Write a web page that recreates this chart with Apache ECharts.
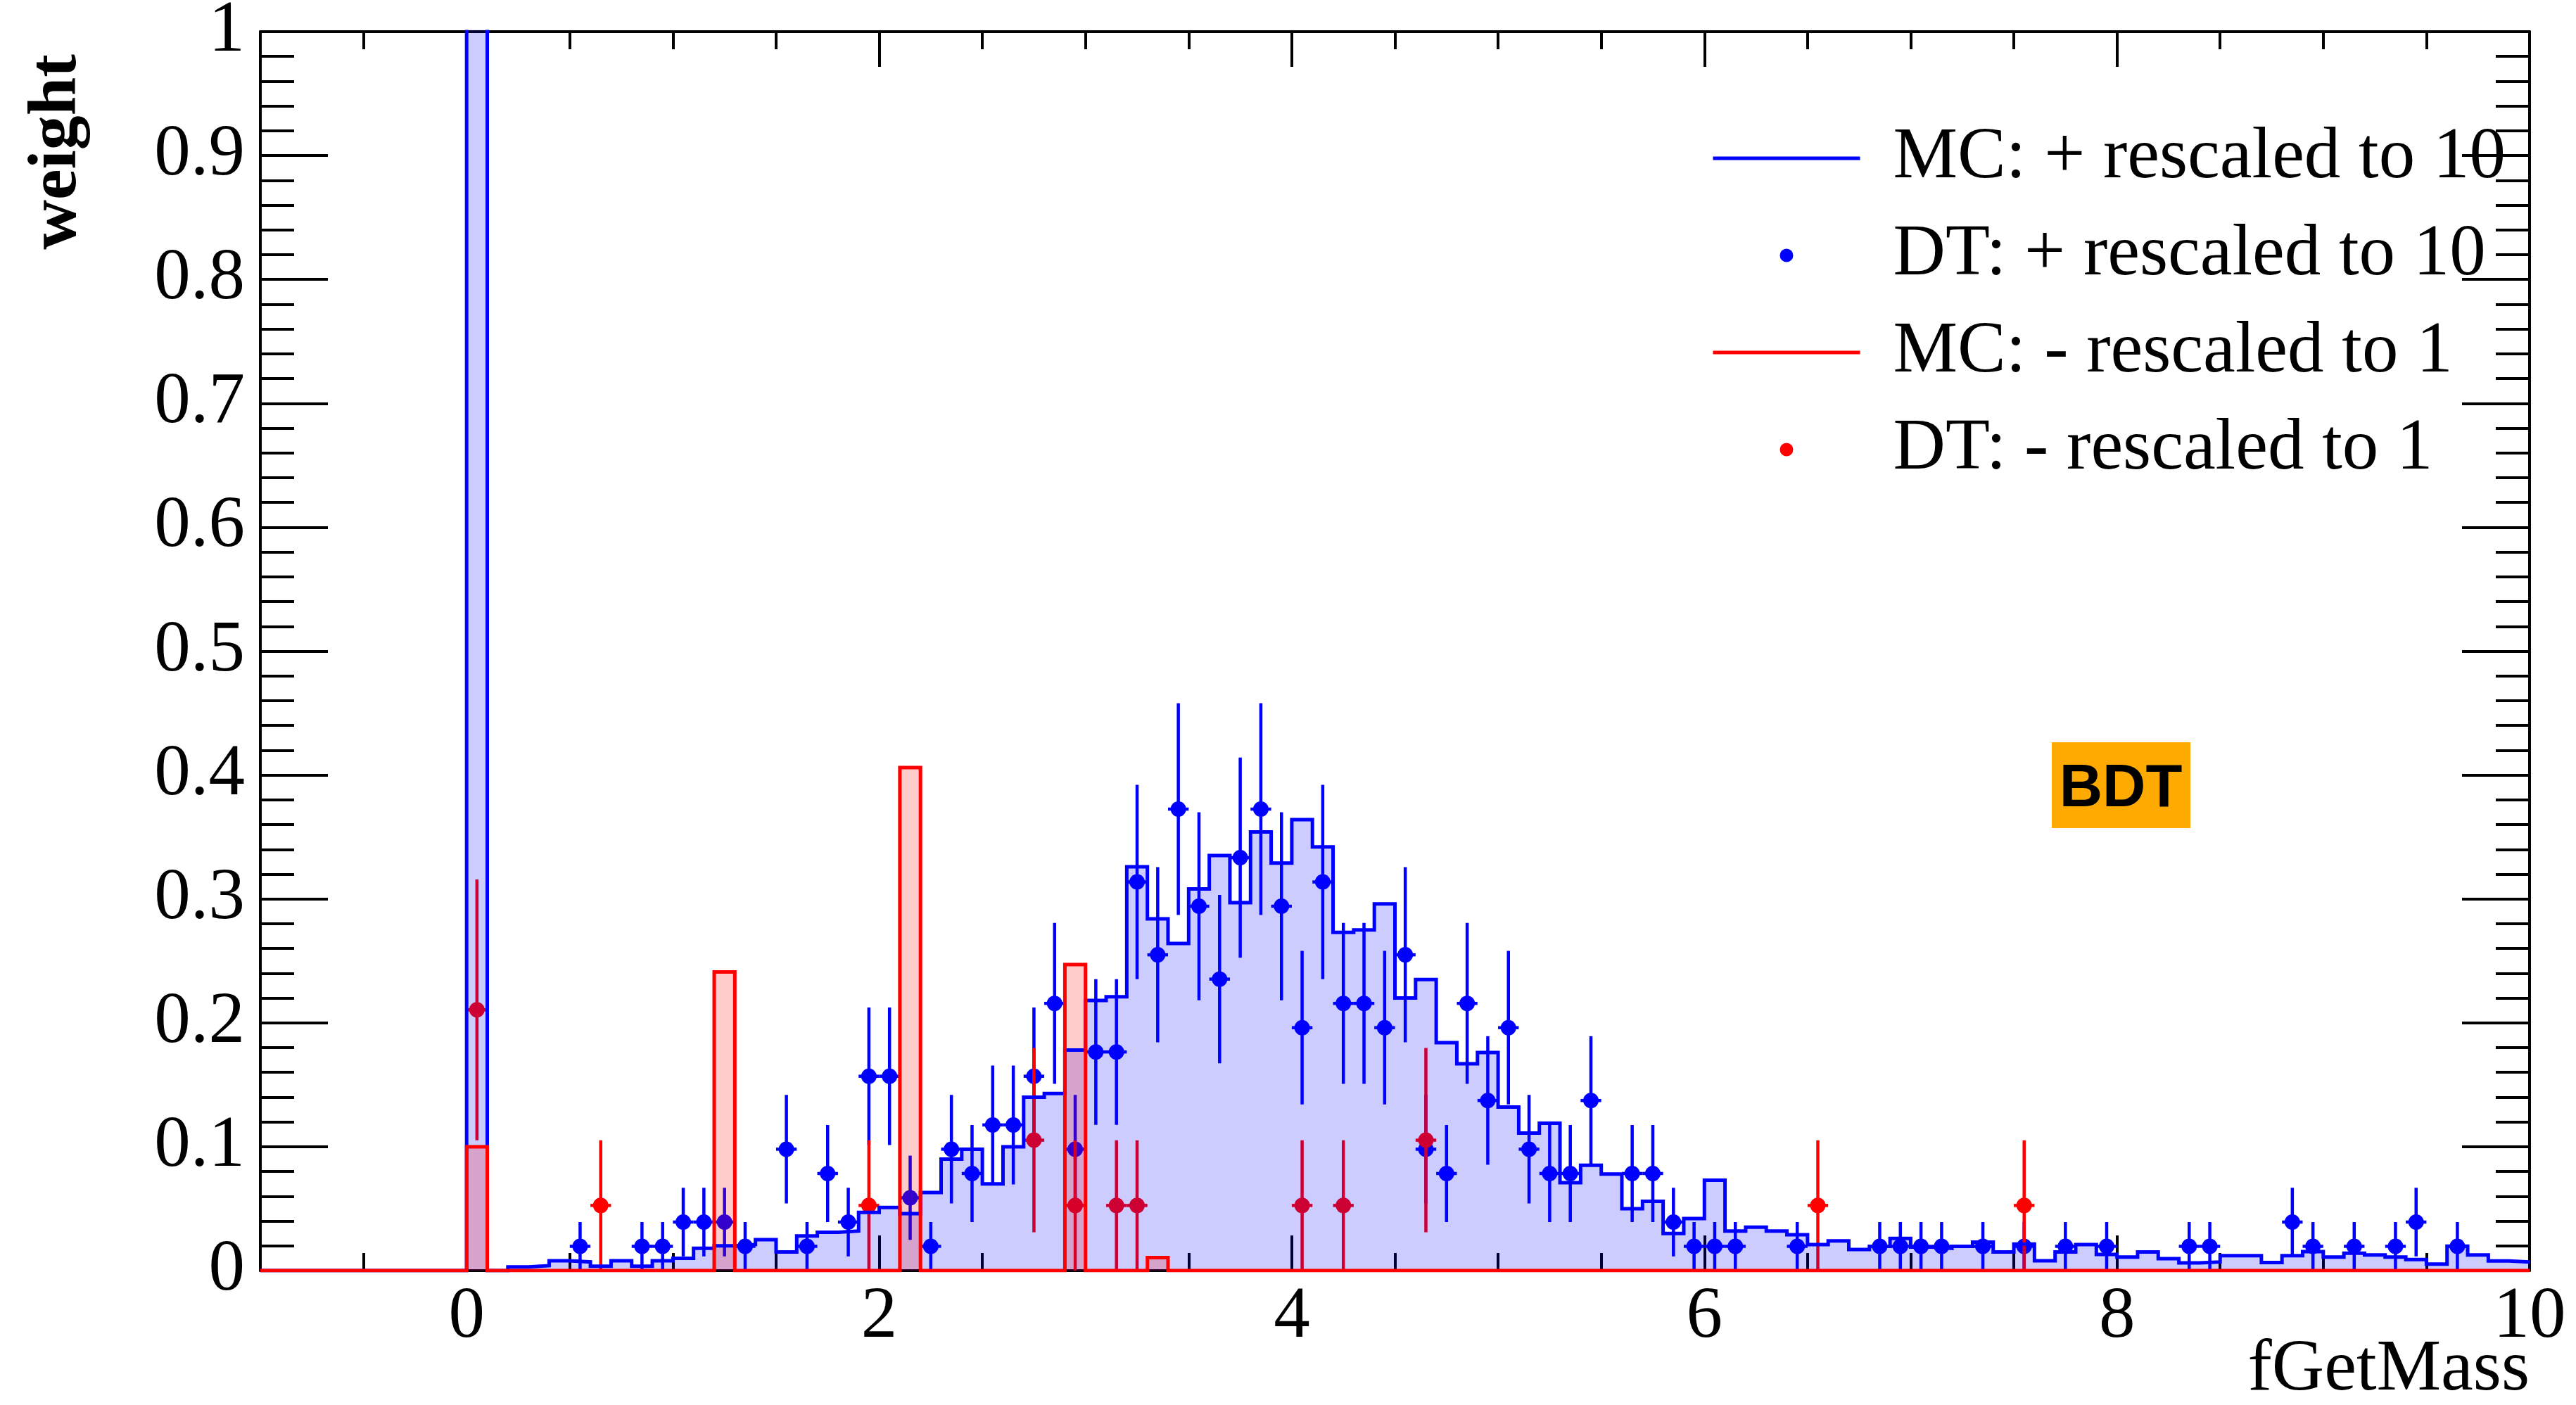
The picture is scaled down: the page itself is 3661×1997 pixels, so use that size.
<!DOCTYPE html>
<html>
<head>
<meta charset="utf-8">
<title>fGetMass</title>
<script src="https://cdn.jsdelivr.net/npm/echarts@6/dist/echarts.min.js"></script>
<style>
  html, body { margin: 0; padding: 0; background: #ffffff; }
  #chart { width: 3661px; height: 1997px; }
</style>
</head>
<body>
<div id="chart"></div>
<script>
// Histogram binning: 110 bins of width 0.1 starting at -1
const binStart = -1.0;
const binWidth = 0.1;

// MC "+" sample, rescaled to 10 (bin contents from -1.0 upwards)
const mcPlus = [
  0, 0, 0, 0, 0, 0, 0, 0, 0, 0,
  1.6, 0, 0.003, 0.004, 0.008, 0.007, 0.0035, 0.008, 0.0035, 0.008,
  0.010, 0.018, 0.020, 0.021, 0.025, 0.015, 0.028, 0.031, 0.032, 0.047,
  0.051, 0.046, 0.063, 0.090, 0.098, 0.070, 0.100, 0.140, 0.143, 0.178,
  0.218, 0.221, 0.326, 0.284, 0.264, 0.308, 0.335, 0.297, 0.354, 0.329,
  0.364, 0.342, 0.273, 0.275, 0.296, 0.220, 0.235, 0.184, 0.167, 0.176,
  0.132, 0.111, 0.119, 0.071, 0.085, 0.078, 0.050, 0.056, 0.030, 0.042,
  0.073, 0.032, 0.035, 0.032, 0.029, 0.021, 0.024, 0.017, 0.0196, 0.026,
  0.019, 0.018, 0.0196, 0.023, 0.015, 0.0215, 0.008, 0.015, 0.021, 0.013,
  0.011, 0.015, 0.0097, 0.0063, 0.007, 0.012, 0.012, 0.0065, 0.012, 0.0154,
  0.011, 0.014, 0.0126, 0.011, 0.009, 0.0053, 0.0198, 0.0126, 0.0078, 0.0069
];

// MC "-" sample, rescaled to 1
const mcMinus = [
  0, 0, 0, 0, 0, 0, 0, 0, 0, 0,
  0.100, 0, 0, 0, 0, 0, 0, 0, 0, 0,
  0, 0, 0.241, 0, 0, 0, 0, 0, 0, 0,
  0, 0.406, 0, 0, 0, 0, 0, 0, 0, 0.247,
  0, 0, 0, 0.0105, 0, 0, 0, 0, 0, 0,
  0, 0, 0, 0, 0, 0, 0, 0, 0, 0,
  0, 0, 0, 0, 0, 0, 0, 0, 0, 0,
  0, 0, 0, 0, 0, 0, 0, 0, 0, 0,
  0, 0, 0, 0, 0, 0, 0, 0, 0, 0,
  0, 0, 0, 0, 0, 0, 0, 0, 0, 0,
  0, 0, 0, 0, 0, 0, 0, 0, 0, 0
];

// Data "+" sample: bin centre, content and vertical error
const dtPlusX = [
  0.55, 0.85, 0.95, 1.05, 1.15, 1.25, 1.35, 1.55, 1.65, 1.75,
  1.85, 1.95, 2.05, 2.15, 2.25, 2.35, 2.45, 2.55, 2.65, 2.75,
  2.85, 2.95, 3.05, 3.15, 3.25, 3.35, 3.45, 3.55, 3.65, 3.75,
  3.85, 3.95, 4.05, 4.15, 4.25, 4.35, 4.45, 4.55, 4.65, 4.75,
  4.85, 4.95, 5.05, 5.15, 5.25, 5.35, 5.45, 5.65, 5.75, 5.85,
  5.95, 6.05, 6.15, 6.45, 6.85, 6.95, 7.05, 7.15, 7.35, 7.55,
  7.75, 7.95, 8.35, 8.45, 8.85, 8.95, 9.15, 9.35, 9.45, 9.65
];
const dtPlusY = [
  0.0196, 0.0196, 0.0196, 0.0392, 0.0392, 0.0392, 0.0196, 0.098, 0.0196, 0.0784,
  0.0392, 0.1569, 0.1569, 0.0588, 0.0196, 0.098, 0.0784, 0.1176, 0.1176, 0.1569,
  0.2157, 0.098, 0.1765, 0.1765, 0.3137, 0.2549, 0.3725, 0.2941, 0.2353, 0.3333,
  0.3725, 0.2941, 0.1961, 0.3137, 0.2157, 0.2157, 0.1961, 0.2549, 0.098, 0.0784,
  0.2157, 0.1373, 0.1961, 0.098, 0.0784, 0.0784, 0.1373, 0.0784, 0.0784, 0.0392,
  0.0196, 0.0196, 0.0196, 0.0196, 0.0196, 0.0196, 0.0196, 0.0196, 0.0196, 0.0196,
  0.0196, 0.0196, 0.0196, 0.0196, 0.0392, 0.0196, 0.0196, 0.0196, 0.0392, 0.0196
];
const dtPlusErr = [
  0.0196, 0.0196, 0.0196, 0.0277, 0.0277, 0.0277, 0.0196, 0.0438, 0.0196, 0.0392,
  0.0277, 0.0555, 0.0555, 0.034, 0.0196, 0.0438, 0.0392, 0.048, 0.048, 0.0555,
  0.065, 0.0438, 0.0588, 0.0588, 0.0784, 0.0707, 0.0855, 0.0759, 0.0679, 0.0808,
  0.0855, 0.0759, 0.062, 0.0784, 0.065, 0.065, 0.062, 0.0707, 0.0438, 0.0392,
  0.065, 0.0519, 0.062, 0.0438, 0.0392, 0.0392, 0.0519, 0.0392, 0.0392, 0.0277,
  0.0196, 0.0196, 0.0196, 0.0196, 0.0196, 0.0196, 0.0196, 0.0196, 0.0196, 0.0196,
  0.0196, 0.0196, 0.0196, 0.0196, 0.0277, 0.0196, 0.0196, 0.0196, 0.0277, 0.0196
];

// Data "-" sample
const dtMinusX = [0.05, 0.65, 1.95, 2.75, 2.95, 3.15, 3.25, 4.05, 4.25, 4.65, 6.55, 7.55];
const dtMinusY = [0.2105, 0.0526, 0.0526, 0.1053, 0.0526, 0.0526, 0.0526, 0.0526, 0.0526, 0.1053, 0.0526, 0.0526];
const dtMinusErr = [0.1053, 0.0526, 0.0526, 0.0744, 0.0526, 0.0526, 0.0526, 0.0526, 0.0526, 0.0744, 0.0526, 0.0526];

const seriesNames = [
  'MC: + rescaled to 10',
  'DT: + rescaled to 10',
  'MC: - rescaled to 1',
  'DT: - rescaled to 1'
];

const BLUE = '#0000ff';
const RED = '#ff0000';
const SERIF = 'Liberation Serif';

// Bin low edges paired with contents, closed at the upper edge of the last bin
function stepPoints(values) {
  const pts = values.map((v, i) => [Number((binStart + i * binWidth).toFixed(2)), v]);
  pts.push([Number((binStart + values.length * binWidth).toFixed(2)), values[values.length - 1]]);
  return pts;
}

function points(xs, ys, errs) {
  return xs.map((x, i) => [x, ys[i], errs[i]]);
}

// Marker with vertical error bar and horizontal half-bin bar
function errorBars(color) {
  return function (params, api) {
    const x = api.value(0), y = api.value(1), e = api.value(2);
    const c = api.coord([x, y]);
    const hi = api.coord([x, y + e]);
    const lo = api.coord([x, Math.max(0, y - e)]);
    const l = api.coord([x - binWidth / 2, y]);
    const r = api.coord([x + binWidth / 2, y]);
    const s = { stroke: color, lineWidth: 4.5 };
    return {
      type: 'group',
      children: [
        { type: 'line', shape: { x1: c[0], y1: hi[1], x2: c[0], y2: lo[1] }, style: s },
        { type: 'line', shape: { x1: l[0], y1: c[1], x2: r[0], y2: c[1] }, style: s },
        { type: 'circle', shape: { cx: c[0], cy: c[1], r: 11 }, style: { fill: color } }
      ]
    };
  };
}

function xAxisDef(position, withLabels) {
  return {
    type: 'value', position: position, gridIndex: 0,
    min: -1, max: 10, minInterval: 2, maxInterval: 2, splitNumber: 5,
    axisLine: { show: true, onZero: false, lineStyle: { color: '#000', width: 4 } },
    axisTick: { show: true, inside: true, length: 50, lineStyle: { color: '#000', width: 4 } },
    minorTick: { show: true, splitNumber: 4, length: 25, lineStyle: { color: '#000', width: 4 } },
    splitLine: { show: false }, minorSplitLine: { show: false },
    axisLabel: {
      show: withLabels, interval: 0, showMinLabel: false, showMaxLabel: true,
      margin: 15, color: '#000', fontFamily: SERIF, fontSize: 103
    }
  };
}

function yAxisDef(position, withLabels) {
  return {
    type: 'value', position: position, gridIndex: 0,
    min: 0, max: 1, interval: 0.1,
    axisLine: { show: true, onZero: false, lineStyle: { color: '#000', width: 4 } },
    axisTick: { show: true, inside: true, length: 96, lineStyle: { color: '#000', width: 4 } },
    minorTick: { show: true, splitNumber: 5, length: 48, lineStyle: { color: '#000', width: 4 } },
    splitLine: { show: false }, minorSplitLine: { show: false },
    axisLabel: {
      show: withLabels, interval: 0, showMinLabel: true, showMaxLabel: true,
      margin: 22, color: '#000', fontFamily: SERIF, fontSize: 103
    }
  };
}

const chart = echarts.init(document.getElementById('chart'), null, { renderer: 'canvas' });

chart.setOption({
  animation: false,
  backgroundColor: '#ffffff',
  textStyle: { fontFamily: SERIF },
  grid: { left: 370, right: 66, top: 45, bottom: 191, containLabel: false, outerBoundsMode: 'none' },
  xAxis: [xAxisDef('bottom', true), xAxisDef('top', false)],
  yAxis: [yAxisDef('left', true), yAxisDef('right', false)],
  legend: {
    orient: 'vertical', left: 2432, top: 168, padding: 0, itemGap: 24,
    itemWidth: 209, itemHeight: 19, selectedMode: false,
    lineStyle: { width: 5 },
    textStyle: { fontFamily: SERIF, fontSize: 103, lineHeight: 103, color: '#000', padding: [0, 0, 11, 42] },
    data: [
      { name: seriesNames[0], itemStyle: { opacity: 0 } },
      { name: seriesNames[1], icon: 'circle', itemStyle: { borderWidth: 0 } },
      { name: seriesNames[2], itemStyle: { opacity: 0 } },
      { name: seriesNames[3], icon: 'circle', itemStyle: { borderWidth: 0 } }
    ]
  },
  graphic: [
    {
      type: 'text', x: 3595, y: 1948, silent: true,
      style: { text: 'fGetMass', fontFamily: SERIF, fontSize: 103, fill: '#000', align: 'right', verticalAlign: 'middle' }
    },
    {
      type: 'text', x: 82, y: 216, rotation: Math.PI / 2, silent: true,
      style: { text: 'weight', fontFamily: SERIF, fontWeight: 'bold', fontSize: 98, fill: '#000', align: 'center', verticalAlign: 'middle' }
    },
    {
      type: 'group', silent: true,
      children: [
        { type: 'rect', shape: { x: 2916, y: 1055, width: 197, height: 122 }, style: { fill: '#ffaa00' } },
        {
          type: 'text', x: 3014, y: 1123,
          style: { text: 'BDT', fontFamily: 'Liberation Sans', fontWeight: 'bold', fontSize: 85, fill: '#000', align: 'center', verticalAlign: 'middle' }
        }
      ]
    }
  ],
  series: [
    {
      name: seriesNames[0], type: 'line', step: 'end', data: stepPoints(mcPlus),
      symbol: 'none', showSymbol: false, silent: true, clip: true,
      lineStyle: { color: BLUE, width: 5, join: 'miter', cap: 'butt' },
      itemStyle: { color: BLUE },
      areaStyle: { color: 'rgba(0,0,255,0.2)', opacity: 1 }
    },
    {
      name: seriesNames[1], type: 'custom', renderItem: errorBars(BLUE), silent: true,
      data: points(dtPlusX, dtPlusY, dtPlusErr), encode: { x: 0, y: 1 },
      itemStyle: { color: BLUE }
    },
    {
      name: seriesNames[2], type: 'line', step: 'end', data: stepPoints(mcMinus),
      symbol: 'none', showSymbol: false, silent: true, clip: true,
      lineStyle: { color: RED, width: 5, join: 'miter', cap: 'butt' },
      itemStyle: { color: RED },
      areaStyle: { color: 'rgba(255,0,0,0.2)', opacity: 1 }
    },
    {
      name: seriesNames[3], type: 'custom', renderItem: errorBars(RED), silent: true,
      data: points(dtMinusX, dtMinusY, dtMinusErr), encode: { x: 0, y: 1 },
      itemStyle: { color: RED }
    }
  ]
});
</script>
</body>
</html>
